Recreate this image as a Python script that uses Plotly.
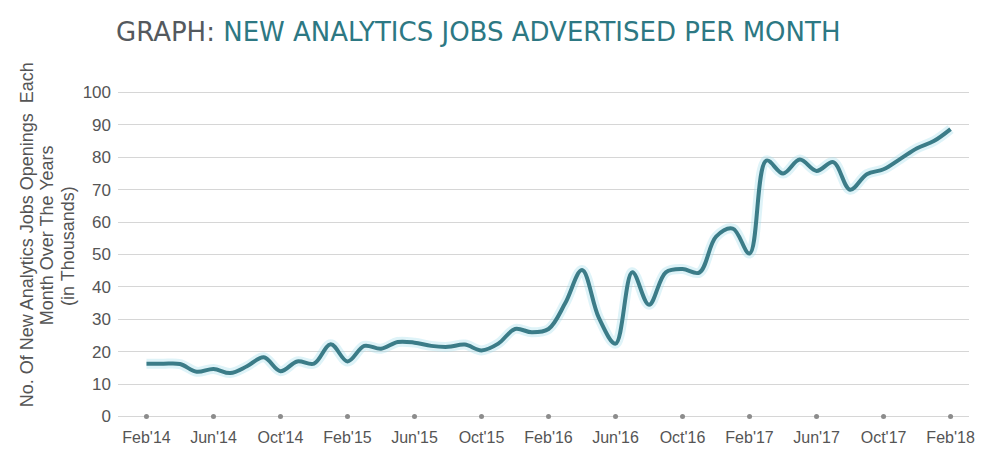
import pandas as pd
import plotly.graph_objects as go

# Monthly categories Feb'14 .. Feb'18
months = [d.strftime("%b'%y") for d in pd.date_range("2014-02-01", "2018-02-01", freq="MS")]

# New analytics job openings per month (thousands)
jobs = [
    16.3, 16.3, 16.2, 13.8, 14.7, 13.4, 15.5, 18.3, 14.0, 17.0, 16.3,   # Feb'14 - Dec'14
    22.3, 17.0, 21.8, 20.9, 23.0, 22.8, 21.8, 21.5, 22.2, 20.4, 22.5, 27.0,  # Jan'15 - Dec'15
    26.0, 27.0, 35.0, 45.2, 30.5, 22.5, 44.5, 34.5, 44.5, 45.5, 44.4, 55.5,  # Jan'16 - Dec'16
    58.0, 50.3, 79.0, 75.0, 79.3, 75.8, 78.5, 70.0, 74.8, 76.3, 79.5, 82.8,  # Jan'17 - Dec'17
    85.0, 88.7,                                                              # Jan'18 - Feb'18
]

tick_labels = ["Feb'14", "Jun'14", "Oct'14", "Feb'15", "Jun'15", "Oct'15", "Feb'16",
               "Jun'16", "Oct'16", "Feb'17", "Jun'17", "Oct'17", "Feb'18"]
y_ticks = [0, 10, 20, 30, 40, 50, 60, 70, 80, 90, 100]

SANS = "Liberation Sans, Arial, Helvetica, sans-serif"
LINE = "#3b7c88"
TEAL = "#2d7883"

fig = go.Figure()

# soft glow under the main line
fig.add_trace(go.Scatter(
    x=months, y=jobs, mode="lines",
    line=dict(color="rgba(160,222,235,0.35)", width=10, shape="spline", smoothing=1.0),
    hoverinfo="skip", showlegend=False,
))
fig.add_trace(go.Scatter(
    x=months, y=jobs, mode="lines",
    line=dict(color=LINE, width=4, shape="spline", smoothing=1.0),
    showlegend=False,
))
# small dots marking each labelled month on the baseline
fig.add_trace(go.Scatter(
    x=tick_labels, y=[0] * len(tick_labels), mode="markers",
    marker=dict(color="#8c8c8c", size=5),
    cliponaxis=False, hoverinfo="skip", showlegend=False,
))

fig.update_layout(
    width=983, height=454,
    margin=dict(l=118, r=8, t=86, b=28),
    paper_bgcolor="white", plot_bgcolor="white",
    title=dict(
        text=("<span style='color:#54595e'>GRAPH: </span>"
              f"<span style='color:{TEAL}'>NEW ANALYTICS JOBS ADVERTISED PER MONTH</span>"),
        x=116 / 983, xanchor="left", xref="container",
        y=1 - 32 / 454, yanchor="middle", yref="container",
        font=dict(family="DejaVu Sans, Open Sans, sans-serif", size=26),
    ),
    xaxis=dict(
        type="category", categoryorder="array", categoryarray=months,
        range=[-1.7, 49.1],
        tickmode="array", tickvals=tick_labels, ticktext=tick_labels,
        showgrid=False, zeroline=False, showline=False, ticks="",
        ticklabelstandoff=3,
        tickfont=dict(family=SANS, size=16, color="#555555"),
    ),
    yaxis=dict(
        range=[-2, 102],
        tickmode="array", tickvals=y_ticks,
        showgrid=True, gridcolor="#d6d6d6", gridwidth=1,
        zeroline=False, showline=False, ticks="",
        ticklabelstandoff=6,
        tickfont=dict(family=SANS, size=17, color="#555555"),
    ),
)

# three-line vertical axis title
title_lines = [
    ("No. Of New Analytics Jobs Openings  Each", 26, 236),
    ("Month Over The Years", 46, 237),
    ("(in Thousands)", 67, 247),
]
plot_w = 983 - 118 - 8
plot_h = 454 - 86 - 28
for text, px, py in title_lines:
    fig.add_annotation(
        text=text, textangle=-90, showarrow=False,
        xref="paper", yref="paper",
        x=(px - 118) / plot_w, y=(454 - 28 - py) / plot_h,
        xanchor="center", yanchor="middle",
        font=dict(family=SANS, size=18, color="#555555"),
    )

fig.write_html("out.html")
